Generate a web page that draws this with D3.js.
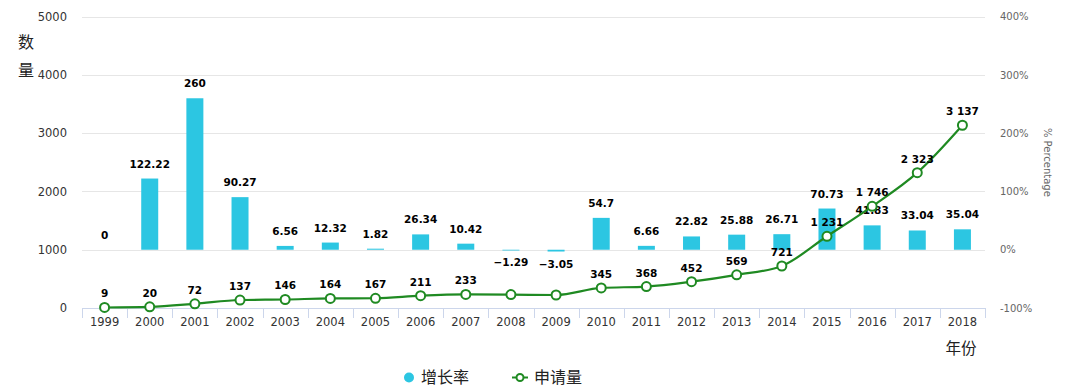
<!DOCTYPE html>
<html>
<head>
<meta charset="utf-8">
<script src="https://cdn.jsdelivr.net/npm/d3@7/dist/d3.min.js"></script>
<style>
  html, body { margin: 0; padding: 0; background: #fff; }
  svg { display: block; }
</style>
</head>
<body>
<svg id="chart" width="1076" height="391"></svg>
<script>
// ---- data ----
const years = ["1999","2000","2001","2002","2003","2004","2005","2006","2007","2008",
               "2009","2010","2011","2012","2013","2014","2015","2016","2017","2018"];
const growthRate = [0, 122.22, 260, 90.27, 6.56, 12.32, 1.82, 26.34, 10.42, -1.29,
                    -3.05, 54.7, 6.66, 22.82, 25.88, 26.71, 70.73, 41.83, 33.04, 35.04];
const applications = [9, 20, 72, 137, 146, 164, 167, 211, 233, 230,
                      223, 345, 368, 452, 569, 721, 1231, 1746, 2323, 3137];
const leftTicks = [0, 1000, 2000, 3000, 4000, 5000];
const rightTicks = [-100, 0, 100, 200, 300, 400];
const seriesNames = ["增长率", "申请量"];

// ---- layout ----
const W = 1076, H = 391;
const plot = { left: 82, right: 985, top: 16.7, bottom: 308 };
const barColor = "#2cc6e2";
const lineColor = "#1f8a22";
const numFont = "'DejaVu Sans', Verdana, sans-serif";
const cjkFont = "'Noto Sans CJK SC', 'Noto Sans', sans-serif";

const svg = d3.select("#chart");

const x = d3.scaleBand().domain(years).range([plot.left, plot.right]).paddingInner(0).paddingOuter(0);
const yL = d3.scaleLinear().domain([0, 5000]).range([plot.bottom, plot.top]);
const yR = d3.scaleLinear().domain([-100, 400]).range([plot.bottom, plot.top]);

// gridlines
svg.append("g").selectAll("line").data(leftTicks.filter(d => d > 0)).join("line")
  .attr("x1", plot.left).attr("x2", plot.right)
  .attr("y1", d => Math.round(yL(d)) + 0.5).attr("y2", d => Math.round(yL(d)) + 0.5)
  .attr("stroke", "#e6e6e6").attr("stroke-width", 1);

// left axis
const gL = svg.append("g").attr("transform", `translate(${plot.left - 15},0)`)
  .call(d3.axisLeft(yL).tickValues(leftTicks).tickSize(0).tickPadding(0).tickFormat(d3.format("d")));
gL.select(".domain").remove();
gL.selectAll("text").attr("font-family", numFont).attr("font-size", 11.5).attr("fill", "#333");

// right axis
const gR = svg.append("g").attr("transform", `translate(${plot.right + 15},0)`)
  .call(d3.axisRight(yR).tickValues(rightTicks).tickSize(0).tickPadding(0).tickFormat(d => d + "%"));
gR.select(".domain").remove();
gR.selectAll("text").attr("font-family", numFont).attr("font-size", 10).attr("fill", "#666");

// right axis title
svg.append("text")
  .attr("transform", `translate(1047,${(plot.top + plot.bottom) / 2}) rotate(90)`)
  .attr("text-anchor", "middle").attr("dy", "0.35em")
  .attr("font-family", numFont).attr("font-size", 10).attr("fill", "#666")
  .text("% Percentage");

// left axis title (vertical)
svg.append("text").attr("x", 26).attr("y", 48).attr("text-anchor", "middle")
  .attr("font-family", cjkFont).attr("font-size", 16).attr("fill", "#222").text("数");
svg.append("text").attr("x", 26).attr("y", 76).attr("text-anchor", "middle")
  .attr("font-family", cjkFont).attr("font-size", 16).attr("fill", "#222").text("量");

// bottom axis
const gB = svg.append("g").attr("transform", `translate(0,${plot.bottom})`)
  .call(d3.axisBottom(x).tickSize(0).tickPadding(10));
gB.select(".domain").attr("stroke", "#ccd6eb");
gB.selectAll("text").attr("font-family", numFont).attr("font-size", 11.5).attr("fill", "#333");
// boundary ticks between categories
const bounds = years.map(d => x(d)).concat([x(years[years.length - 1]) + x.bandwidth()]);
gB.append("g").selectAll("line").data(bounds).join("line")
  .attr("x1", d => Math.round(d) + 0.5).attr("x2", d => Math.round(d) + 0.5)
  .attr("y1", 0).attr("y2", 10).attr("stroke", "#ccd6eb");

// x-axis title
svg.append("text").attr("x", 961).attr("y", 354).attr("text-anchor", "middle")
  .attr("font-family", cjkFont).attr("font-size", 15.5).attr("fill", "#222").text("年份");

// bars (growth rate, right axis)
const barW = 17;
const bars = years.map((yr, i) => ({ yr, v: growthRate[i] }));
svg.append("g").selectAll("rect").data(bars).join("rect")
  .attr("x", d => x(d.yr) + x.bandwidth() / 2 - barW / 2)
  .attr("width", barW)
  .attr("y", d => Math.min(yR(d.v), yR(0)))
  .attr("height", d => Math.abs(yR(d.v) - yR(0)))
  .attr("fill", barColor);

// bar labels
svg.append("g").selectAll("text").data(bars).join("text")
  .attr("x", d => x(d.yr) + x.bandwidth() / 2)
  .attr("y", d => d.v >= 0 ? yR(d.v) - 11 : yR(d.v) + 16)
  .attr("text-anchor", "middle")
  .attr("font-family", numFont).attr("font-size", 10.5).attr("font-weight", "bold").attr("fill", "#000")
  .text(d => d.v === 0 ? "0" : (d.v < 0 ? "\u2212" + Math.abs(d.v) : String(d.v)));

// line (applications, left axis)
const pts = years.map((yr, i) => ({ yr, v: applications[i], g: growthRate[i] }));
const line = d3.line()
  .x(d => x(d.yr) + x.bandwidth() / 2)
  .y(d => yL(d.v))
  .curve(d3.curveMonotoneX);
svg.append("path").datum(pts).attr("d", line)
  .attr("fill", "none").attr("stroke", lineColor).attr("stroke-width", 2.2);

svg.append("g").selectAll("circle").data(pts).join("circle")
  .attr("cx", d => x(d.yr) + x.bandwidth() / 2)
  .attr("cy", d => yL(d.v))
  .attr("r", 4.5)
  .attr("fill", "#fff").attr("stroke", lineColor).attr("stroke-width", 2);

// line labels (labels overlapping the negative-growth labels are hidden, as in the original)
const fmt = v => d3.format(",")(v).replace(/,/g, " ");
svg.append("g").selectAll("text").data(pts.filter(d => d.g >= 0)).join("text")
  .attr("x", d => x(d.yr) + x.bandwidth() / 2)
  .attr("y", d => yL(d.v) - 10)
  .attr("text-anchor", "middle")
  .attr("font-family", numFont).attr("font-size", 10.5).attr("font-weight", "bold").attr("fill", "#000")
  .text(d => fmt(d.v));

// legend
const lg = svg.append("g");
lg.append("circle").attr("cx", 409).attr("cy", 377.5).attr("r", 5).attr("fill", barColor);
lg.append("text").attr("x", 421).attr("y", 377.5).attr("dy", "0.36em")
  .attr("font-family", cjkFont).attr("font-size", 16).attr("fill", "#222").text(seriesNames[0]);
lg.append("line").attr("x1", 512).attr("x2", 528).attr("y1", 377.5).attr("y2", 377.5)
  .attr("stroke", lineColor).attr("stroke-width", 2);
lg.append("circle").attr("cx", 520).attr("cy", 377.5).attr("r", 3.5)
  .attr("fill", "#fff").attr("stroke", lineColor).attr("stroke-width", 2);
lg.append("text").attr("x", 534).attr("y", 377.5).attr("dy", "0.36em")
  .attr("font-family", cjkFont).attr("font-size", 16).attr("fill", "#222").text(seriesNames[1]);
</script>
</body>
</html>
